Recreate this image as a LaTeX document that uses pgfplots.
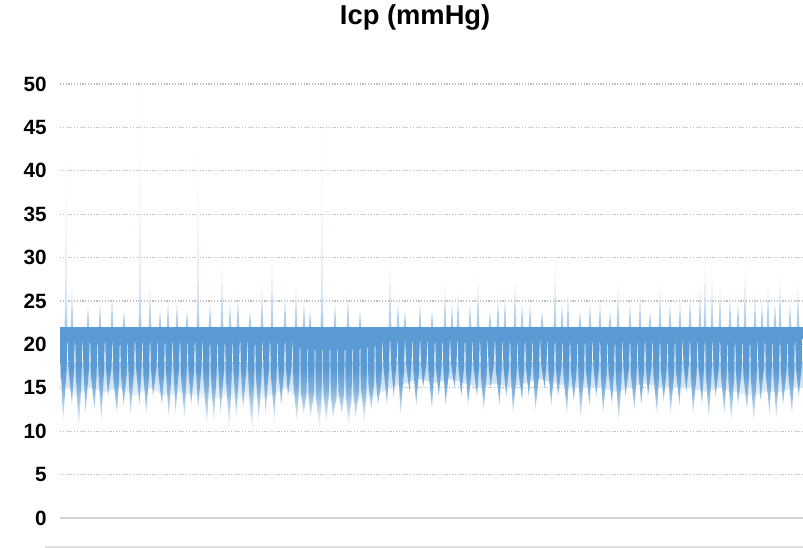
\documentclass[border=0pt]{standalone}
\usepackage{fontspec}
\setmainfont{Liberation Sans}
\usepackage{pgfplots}
\pgfplotsset{compat=1.18}
\definecolor{icpblue}{RGB}{91,155,213}
\definecolor{gridgray}{RGB}{190,190,190}

% shadings: the path bbox is mapped onto 25bp..75bp
\pgfdeclareverticalshading{icpdown}{100bp}{color(0bp)=(white); color(30bp)=(white);
  color(38bp)=(icpblue!35); color(48bp)=(icpblue!80); color(56bp)=(icpblue); color(100bp)=(icpblue)}
\pgfdeclareverticalshading{icpsoft}{100bp}{color(0bp)=(white); color(25bp)=(white);
  color(45bp)=(icpblue!22); color(75bp)=(icpblue!45); color(100bp)=(icpblue!45)}
\pgfdeclareverticalshading{icpup}{100bp}{color(0bp)=(icpblue!55); color(25bp)=(icpblue!55);
  color(30bp)=(icpblue!30); color(36bp)=(icpblue!15); color(50bp)=(icpblue!8); color(100bp)=(icpblue!5)}

\begin{document}
\begin{tikzpicture}
\useasboundingbox (-45pt,-0.75pt) rectangle (557.25pt,410.25pt);
\begin{axis}[
    scale only axis,
    width=557.25pt, height=347.25pt,
    xmin=60, xmax=803,
    ymin=-3.34, ymax=50,
    clip=false,
    axis line style={draw=none},
    xtick=\empty,
    ytick={5,10,...,50},
    extra y ticks={0},
    extra y tick style={grid=none},
    ymajorgrids,
    grid style={gridgray, dash pattern=on 0.9pt off 1.2pt, line width=0.9pt},
    major tick length=0pt,
    tick label style={font=\fontsize{15.5}{18}\selectfont\bfseries, inner sep=0pt},
    yticklabel style={xshift=-9.75pt},
    /pgf/number format/assume math mode=true,
    title={Icp (mmHg)},
    title style={at={(0.478,1)}, anchor=base, yshift=38.25pt,
      font=\fontsize{20.5}{24}\selectfont\bfseries},
  ]
  % faint upward spikes
  \addplot[draw=none, mark=none, shade, shading=icpup] coordinates {
    (60,22)
    (64.7,22)(66,45)(67.3,22) (70.7,22)(72,27)(73.3,22) (86.7,22)(88,24.5)(89.3,22)
    (98.7,22)(100,25)(101.3,22) (110.7,22)(112,26)(113.3,22) (122.7,22)(124,24)(125.3,22)
    (138.7,22)(140,50)(141.3,22) (148.7,22)(150,27)(151.3,22) (158.7,22)(160,24)(161.3,22)
    (166.7,22)(168,25)(169.3,22) (175.7,22)(177,25)(178.3,22) (185.7,22)(187,24)(188.3,22)
    (196.7,22)(198,47)(199.3,22) (208.7,22)(210,25)(211.3,22) (220.7,22)(222,30)(223.3,22)
    (228.7,22)(230,25)(231.3,22) (236.7,22)(238,26)(239.3,22) (248.7,22)(250,24)(251.3,22)
    (260.7,22)(262,27)(263.3,22) (270.7,22)(272,31)(273.3,22) (283.7,22)(285,26)(286.3,22)
    (294.7,22)(296,27)(297.3,22) (302.7,22)(304,25)(305.3,22) (308.7,22)(310,24)(311.3,22)
    (320.7,22)(322,50)(323.3,22) (333.7,22)(335,25)(336.3,22) (346.7,22)(348,26)(349.3,22)
    (358.7,22)(360,24)(361.3,22) (388.7,22)(390,30)(391.3,22) (396.7,22)(398,25)(399.3,22)
    (403.7,22)(405,24)(406.3,22) (418.7,22)(420,25)(421.3,22) (430.7,22)(432,24)(433.3,22)
    (443.7,22)(445,27)(446.3,22) (450.7,22)(452,25)(453.3,22) (456.7,22)(458,26)(459.3,22)
    (468.7,22)(470,25)(471.3,22) (476.7,22)(478,28)(479.3,22) (488.7,22)(490,24)(491.3,22)
    (496.7,22)(498,26)(499.3,22) (503.7,22)(505,26)(506.3,22) (513.7,22)(515,28)(516.3,22)
    (520.7,22)(522,25)(523.3,22) (528.7,22)(530,25)(531.3,22) (540.7,22)(542,24)(543.3,22)
    (553.7,22)(555,30)(556.3,22) (560.7,22)(562,25)(563.3,22) (566.7,22)(568,26)(569.3,22)
    (578.7,22)(580,24)(581.3,22) (588.7,22)(590,25)(591.3,22) (598.7,22)(600,25)(601.3,22)
    (608.7,22)(610,24)(611.3,22) (616.7,22)(618,27)(619.3,22) (628.7,22)(630,25)(631.3,22)
    (638.7,22)(640,26)(641.3,22) (648.7,22)(650,24)(651.3,22) (658.7,22)(660,27)(661.3,22)
    (668.7,22)(670,25)(671.3,22) (678.7,22)(680,25)(681.3,22) (688.7,22)(690,26)(691.3,22)
    (698.7,22)(700,27)(701.3,22) (703.7,22)(705,30)(706.3,22) (710.7,22)(712,28)(713.3,22)
    (718.7,22)(720,27)(721.3,22) (728.7,22)(730,26)(731.3,22) (736.7,22)(738,25)(739.3,22)
    (743.7,22)(745,29)(746.3,22) (753.7,22)(755,26)(756.3,22) (760.7,22)(762,25)(763.3,22)
    (766.7,22)(768,27)(769.3,22) (773.7,22)(775,25)(776.3,22) (778.7,22)(780,28)(781.3,22)
    (788.7,22)(790,25)(791.3,22) (796.7,22)(798,27)(799.3,22)
    (803,22)
  };
  % soft haze under the icicles (below the gap tops)
  \addplot[draw=none, mark=none, shade, shading=icpsoft] coordinates {
    (60,18)(60,16)(75,14)(90,15)(105,14.5)(120,15)(135,14)(150,15)(165,14)(180,14.5)
    (195,14)(210,13.5)(225,14)(240,13.5)(255,13.5)(270,14)(285,15)(300,13.5)(315,13)
    (330,13.5)(345,13)(360,13.5)(375,14)(390,15)(405,15.5)(420,16)(435,15.5)(450,16)
    (465,15.5)(480,15)(495,15.5)(510,15)(525,15.5)(540,16)(555,15.5)(570,15)(585,15)
    (600,15)(615,14.5)(630,15)(645,15.5)(660,15)(675,15)(690,15)(705,14.5)(720,15)
    (735,14.5)(750,14)(765,14.5)(780,14.5)(795,15)(803,15)(803,18)
  };
  % main band with downward icicles
  \addplot[draw=none, mark=none, shade, shading=icpdown] coordinates {
    (60,22)
    (60,21.3)(60.9,17)(63,11)(66.6,17)
    (67.5,21.3)(68.4,17.5)(72,13)(74.1,17.5)
    (75,21.3)(75.9,16.5)(78.75,9.5)(81.6,16.5)
    (82.5,21.3)(83.4,17.5)(85.5,12)(89.1,17.5)
    (90,21.3)(90.9,16.5)(94.5,12.5)(96.6,16.5)
    (97.5,21.3)(98.4,17)(101.25,11)(104.1,17)
    (105,21.3)(105.9,17.5)(108,14)(111.6,17.5)
    (112.5,21.3)(113.4,16)(117,12)(119.1,16)
    (120,21.3)(120.9,16.5)(123.75,13)(126.6,16.5)
    (127.5,21.3)(128.4,17)(130.5,12)(134.1,17)
    (135,21.3)(135.9,17.5)(139.5,13)(141.6,17.5)
    (142.5,21.3)(143.4,16.5)(146.25,12)(149.1,16.5)
    (150,21.3)(150.9,17.5)(153,14)(156.6,17.5)
    (157.5,21.3)(158.4,16.5)(162,13)(164.1,16.5)
    (165,21.3)(165.9,17)(168.75,11.5)(171.6,17)
    (172.5,21.3)(173.4,17.5)(175.5,12)(179.1,17.5)
    (180,21.3)(180.9,16.5)(184.5,11.5)(186.6,16.5)
    (187.5,21.3)(188.4,17)(191.25,13)(194.1,17)
    (195,21.3)(195.9,17.5)(198,12.5)(201.6,17.5)
    (202.5,21.3)(203.4,16)(207,10.5)(209.1,16)
    (210,21.3)(210.9,16.5)(213.75,11)(216.6,16.5)
    (217.5,21.3)(218.4,17)(220.5,12)(224.1,17)
    (225,21.3)(225.9,16)(229.5,10)(231.6,16)
    (232.5,21.3)(233.4,17)(236.25,11.5)(239.1,17)
    (240,21.3)(240.9,17.5)(243,12.5)(246.6,17.5)
    (247.5,21.3)(248.4,16)(252,9)(254.1,16)
    (255,21.3)(255.9,16.5)(258.75,11)(261.6,16.5)
    (262.5,21.3)(263.4,17.5)(265.5,12)(269.1,17.5)
    (270,21.3)(270.9,16.5)(274.5,11)(276.6,16.5)
    (277.5,21.3)(278.4,17)(281.25,13)(284.1,17)
    (285,21.3)(285.9,17.5)(288,14)(291.6,17.5)
    (292.5,21.3)(293.4,15.5)(297,11)(299.1,15.5)
    (300,21.3)(300.9,14.5)(303.75,12)(306.6,14.5)
    (307.5,21.3)(308.4,14.5)(310.5,11.5)(314.1,14.5)
    (315,21.3)(315.9,14)(319.5,10)(321.6,14)
    (322.5,21.3)(323.4,14.5)(326.25,11)(329.1,14.5)
    (330,21.3)(330.9,14)(333,11.5)(336.6,14)
    (337.5,21.3)(338.4,14.5)(342,12)(344.1,14.5)
    (345,21.3)(345.9,14)(348.75,10.5)(351.6,14)
    (352.5,21.3)(353.4,14.5)(355.5,11.5)(359.1,14.5)
    (360,21.3)(360.9,15)(364.5,11)(366.6,15)
    (367.5,21.3)(368.4,15.5)(371.25,12.5)(374.1,15.5)
    (375,21.3)(375.9,16)(378,13)(381.6,16)
    (382.5,21.3)(383.4,17.5)(387,13)(389.1,17.5)
    (390,21.3)(390.9,18)(393.75,14)(396.6,18)
    (397.5,21.3)(398.4,17)(400.5,12)(404.1,17)
    (405,21.3)(405.9,18)(409.5,14.5)(411.6,18)
    (412.5,21.3)(413.4,17)(416.25,13)(419.1,17)
    (420,21.3)(420.9,18)(423,15)(426.6,18)
    (427.5,21.3)(428.4,17)(432,12.5)(434.1,17)
    (435,21.3)(435.9,17.5)(438.75,14)(441.6,17.5)
    (442.5,21.3)(443.4,17)(445.5,13)(449.1,17)
    (450,21.3)(450.9,18)(454.5,15)(456.6,18)
    (457.5,21.3)(458.4,17.5)(461.25,14)(464.1,17.5)
    (465,21.3)(465.9,17)(468,13)(471.6,17)
    (472.5,21.3)(473.4,17.5)(477,14)(479.1,17.5)
    (480,21.3)(480.9,16.5)(483.75,12.5)(486.6,16.5)
    (487.5,21.3)(488.4,18)(490.5,15)(494.1,18)
    (495,21.3)(495.9,17)(499.5,13)(501.6,17)
    (502.5,21.3)(503.4,17.5)(506.25,14)(509.1,17.5)
    (510,21.3)(510.9,16.5)(513,12)(516.6,16.5)
    (517.5,21.3)(518.4,17)(522,13.5)(524.1,17)
    (525,21.3)(525.9,17.5)(528.75,14)(531.6,17.5)
    (532.5,21.3)(533.4,16.5)(535.5,12.5)(539.1,16.5)
    (540,21.3)(540.9,18)(544.5,15)(546.6,18)
    (547.5,21.3)(548.4,17)(551.25,13)(554.1,17)
    (555,21.3)(555.9,17.5)(558,14)(561.6,17.5)
    (562.5,21.3)(563.4,16.5)(567,12)(569.1,16.5)
    (570,21.3)(570.9,17)(573.75,13.5)(576.6,17)
    (577.5,21.3)(578.4,16.5)(580.5,11.5)(584.1,16.5)
    (585,21.3)(585.9,17)(589.5,13)(591.6,17)
    (592.5,21.3)(593.4,17.5)(596.25,14)(599.1,17.5)
    (600,21.3)(600.9,16.5)(603,12)(606.6,16.5)
    (607.5,21.3)(608.4,17)(612,13)(614.1,17)
    (615,21.3)(615.9,16)(618.75,11)(621.6,16)
    (622.5,21.3)(623.4,17.5)(625.5,14)(629.1,17.5)
    (630,21.3)(630.9,16.5)(634.5,12.5)(636.6,16.5)
    (637.5,21.3)(638.4,17)(641.25,13)(644.1,17)
    (645,21.3)(645.9,17.5)(648,14)(651.6,17.5)
    (652.5,21.3)(653.4,16.5)(657,12)(659.1,16.5)
    (660,21.3)(660.9,17)(663.75,13.5)(666.6,17)
    (667.5,21.3)(668.4,16.5)(670.5,12)(674.1,16.5)
    (675,21.3)(675.9,17)(679.5,13)(681.6,17)
    (682.5,21.3)(683.4,18)(686.25,14.5)(689.1,18)
    (690,21.3)(690.9,16.5)(693,12)(696.6,16.5)
    (697.5,21.3)(698.4,17.5)(702,13)(704.1,17.5)
    (705,21.3)(705.9,16.5)(708.75,11.5)(711.6,16.5)
    (712.5,21.3)(713.4,17.5)(715.5,14)(719.1,17.5)
    (720,21.3)(720.9,16.5)(724.5,12)(726.6,16.5)
    (727.5,21.3)(728.4,16)(731.25,11)(734.1,16)
    (735,21.3)(735.9,17)(738,13)(741.6,17)
    (742.5,21.3)(743.4,16.5)(747,12.5)(749.1,16.5)
    (750,21.3)(750.9,16)(753.75,11)(756.6,16)
    (757.5,21.3)(758.4,17.5)(760.5,13.5)(764.1,17.5)
    (765,21.3)(765.9,16.5)(769.5,12)(771.6,16.5)
    (772.5,21.3)(773.4,16.5)(776.25,11.5)(779.1,16.5)
    (780,21.3)(780.9,17)(783,13)(786.6,17)
    (787.5,21.3)(788.4,16.5)(792,12)(794.1,16.5)
    (795,21.3)(795.9,17.5)(798.75,14)(801.6,17.5)
    (803,21.3)(803,22)
  };
  % zero line and bottom axis line
  \addplot[draw=gray!35, line width=1.2pt, mark=none] coordinates {(60,0)(803,0)};
  \addplot[draw=gray!25, line width=1.2pt, mark=none] coordinates {(45,-3.34)(803,-3.34)};
\end{axis}
\end{tikzpicture}
\end{document}
